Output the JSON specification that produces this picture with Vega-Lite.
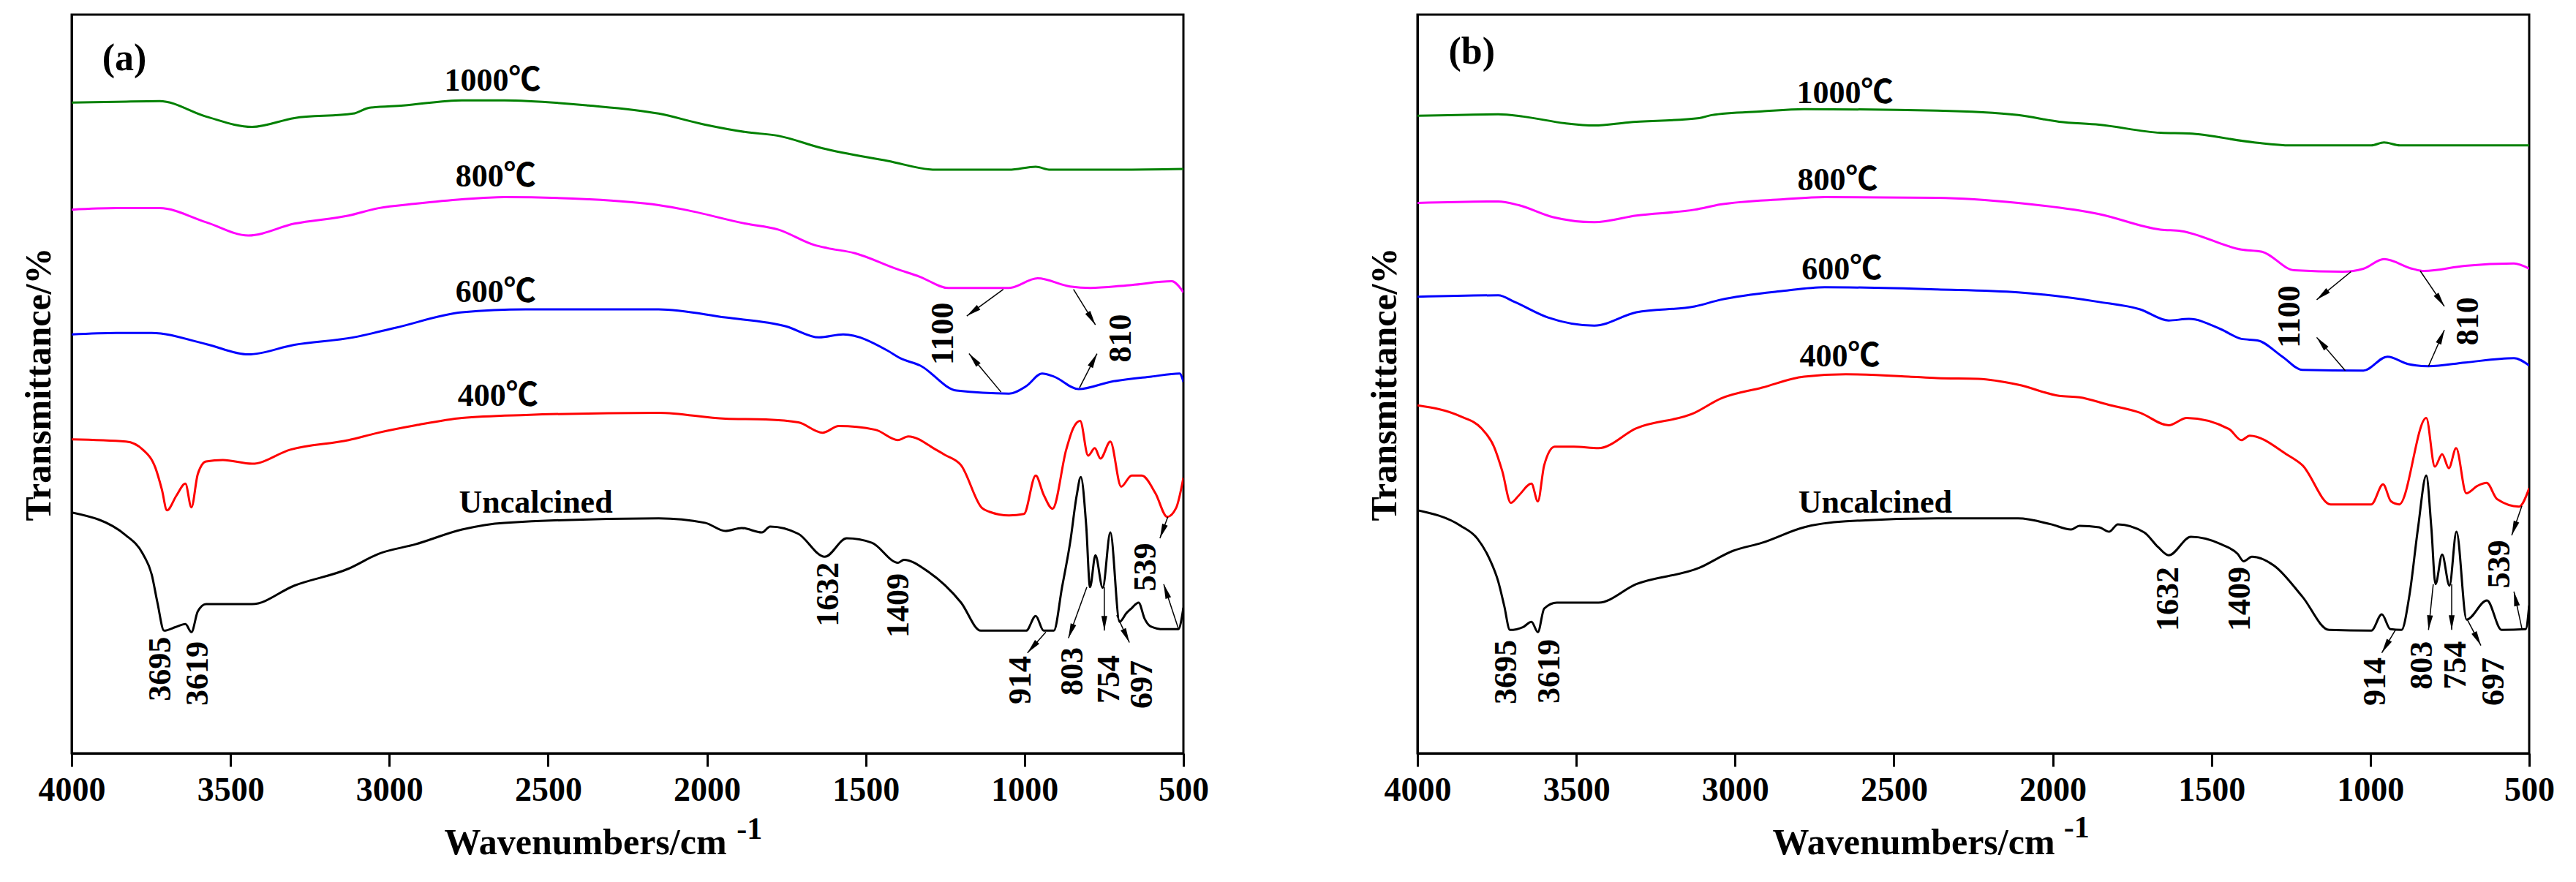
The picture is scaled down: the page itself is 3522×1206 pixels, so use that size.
{
  "$schema": "https://vega.github.io/schema/vega-lite/v6.json",
  "background": "white",
  "padding": {"left": 26, "top": 18, "right": 10, "bottom": 5},
  "spacing": 320,
  "bounds": "flush",
  "config": {
    "view": {"stroke": "black", "strokeWidth": 3},
    "font": "Liberation Serif",
    "axisX": {
      "labelFont": "Liberation Serif",
      "labelFontSize": 46,
      "labelFontWeight": "bold",
      "labelColor": "black",
      "labelPadding": 10,
      "labelOverlap": false,
      "labelFlush": false,
      "tickColor": "black",
      "tickSize": 18,
      "tickWidth": 3,
      "domainColor": "black",
      "domainWidth": 3,
      "grid": false,
      "titleFont": "Liberation Serif",
      "titleFontSize": 50,
      "titleFontWeight": "bold",
      "titleColor": "black",
      "titlePadding": 24
    },
    "axisY": {
      "labels": false,
      "ticks": false,
      "grid": false,
      "domainColor": "black",
      "domainWidth": 3,
      "titleFont": "Liberation Serif",
      "titleFontSize": 50,
      "titleFontWeight": "bold",
      "titleColor": "black",
      "titlePadding": 20
    }
  },
  "datasets": {
    "spectra": [
      {"panel":"a","series":"1000℃","wn":4000,"t":88.1},{"panel":"a","series":"1000℃","wn":3860,"t":88.2},{"panel":"a","series":"1000℃","wn":3723,"t":88.3},{"panel":"a","series":"1000℃","wn":3577,"t":86.2},{"panel":"a","series":"1000℃","wn":3432,"t":84.8},{"panel":"a","series":"1000℃","wn":3299,"t":86.0},{"panel":"a","series":"1000℃","wn":3114,"t":86.6},{"panel":"a","series":"1000℃","wn":3062,"t":87.4},{"panel":"a","series":"1000℃","wn":2956,"t":87.7},{"panel":"a","series":"1000℃","wn":2771,"t":88.4},{"panel":"a","series":"1000℃","wn":2638,"t":88.4},{"panel":"a","series":"1000℃","wn":2373,"t":87.7},{"panel":"a","series":"1000℃","wn":2152,"t":86.6},{"panel":"a","series":"1000℃","wn":2006,"t":85.1},{"panel":"a","series":"1000℃","wn":1878,"t":84.1},{"panel":"a","series":"1000℃","wn":1776,"t":83.6},{"panel":"a","series":"1000℃","wn":1636,"t":81.9},{"panel":"a","series":"1000℃","wn":1431,"t":80.2},{"panel":"a","series":"1000℃","wn":1279,"t":79.0},{"panel":"a","series":"1000℃","wn":1049,"t":79.0},{"panel":"a","series":"1000℃","wn":965,"t":79.4},{"panel":"a","series":"1000℃","wn":919,"t":79.0},{"panel":"a","series":"1000℃","wn":700,"t":79.0},{"panel":"a","series":"1000℃","wn":500,"t":79.1},
      {"panel":"a","series":"800℃","wn":4000,"t":73.6},{"panel":"a","series":"800℃","wn":3860,"t":73.8},{"panel":"a","series":"800℃","wn":3723,"t":73.8},{"panel":"a","series":"800℃","wn":3577,"t":71.9},{"panel":"a","series":"800℃","wn":3444,"t":70.1},{"panel":"a","series":"800℃","wn":3299,"t":71.7},{"panel":"a","series":"800℃","wn":3128,"t":72.8},{"panel":"a","series":"800℃","wn":3034,"t":73.8},{"panel":"a","series":"800℃","wn":2917,"t":74.4},{"panel":"a","series":"800℃","wn":2771,"t":75.0},{"panel":"a","series":"800℃","wn":2638,"t":75.3},{"panel":"a","series":"800℃","wn":2373,"t":75.0},{"panel":"a","series":"800℃","wn":2152,"t":74.2},{"panel":"a","series":"800℃","wn":2071,"t":73.6},{"panel":"a","series":"800℃","wn":1878,"t":71.7},{"panel":"a","series":"800℃","wn":1776,"t":70.9},{"panel":"a","series":"800℃","wn":1661,"t":68.8},{"panel":"a","series":"800℃","wn":1622,"t":68.4},{"panel":"a","series":"800℃","wn":1534,"t":67.7},{"panel":"a","series":"800℃","wn":1405,"t":65.6},{"panel":"a","series":"800℃","wn":1329,"t":64.5},{"panel":"a","series":"800℃","wn":1240,"t":63.0},{"panel":"a","series":"800℃","wn":1049,"t":63.0},{"panel":"a","series":"800℃","wn":959,"t":64.3},{"panel":"a","series":"800℃","wn":857,"t":63.2},{"panel":"a","series":"800℃","wn":793,"t":63.0},{"panel":"a","series":"800℃","wn":663,"t":63.4},{"panel":"a","series":"800℃","wn":537,"t":63.9},{"panel":"a","series":"800℃","wn":500,"t":62.4},
      {"panel":"a","series":"600℃","wn":4000,"t":56.7},{"panel":"a","series":"600℃","wn":3860,"t":56.9},{"panel":"a","series":"600℃","wn":3748,"t":56.9},{"panel":"a","series":"600℃","wn":3577,"t":55.4},{"panel":"a","series":"600℃","wn":3444,"t":54.0},{"panel":"a","series":"600℃","wn":3299,"t":55.3},{"panel":"a","series":"600℃","wn":3114,"t":56.3},{"panel":"a","series":"600℃","wn":2981,"t":57.6},{"panel":"a","series":"600℃","wn":2771,"t":59.7},{"panel":"a","series":"600℃","wn":2571,"t":60.1},{"panel":"a","series":"600℃","wn":2152,"t":60.1},{"panel":"a","series":"600℃","wn":1942,"t":59.0},{"panel":"a","series":"600℃","wn":1751,"t":57.8},{"panel":"a","series":"600℃","wn":1647,"t":56.3},{"panel":"a","series":"600℃","wn":1571,"t":56.7},{"panel":"a","series":"600℃","wn":1431,"t":54.5},{"panel":"a","series":"600℃","wn":1392,"t":53.5},{"panel":"a","series":"600℃","wn":1329,"t":52.5},{"panel":"a","series":"600℃","wn":1214,"t":49.1},{"panel":"a","series":"600℃","wn":1049,"t":48.7},{"panel":"a","series":"600℃","wn":995,"t":49.7},{"panel":"a","series":"600℃","wn":945,"t":51.4},{"panel":"a","series":"600℃","wn":908,"t":51.0},{"panel":"a","series":"600℃","wn":830,"t":49.3},{"panel":"a","series":"600℃","wn":728,"t":50.3},{"panel":"a","series":"600℃","wn":601,"t":51.0},{"panel":"a","series":"600℃","wn":512,"t":51.4},{"panel":"a","series":"600℃","wn":500,"t":50.3},
      {"panel":"a","series":"400℃","wn":4000,"t":42.5},{"panel":"a","series":"400℃","wn":3829,"t":42.2},{"panel":"a","series":"400℃","wn":3776,"t":41.1},{"panel":"a","series":"400℃","wn":3736,"t":38.6},{"panel":"a","series":"400℃","wn":3716,"t":35.7},{"panel":"a","series":"400℃","wn":3700,"t":32.9},{"panel":"a","series":"400℃","wn":3670,"t":34.9},{"panel":"a","series":"400℃","wn":3642,"t":36.5},{"panel":"a","series":"400℃","wn":3623,"t":33.3},{"panel":"a","series":"400℃","wn":3603,"t":37.8},{"panel":"a","series":"400℃","wn":3577,"t":39.5},{"panel":"a","series":"400℃","wn":3524,"t":39.7},{"panel":"a","series":"400℃","wn":3432,"t":39.2},{"panel":"a","series":"400℃","wn":3312,"t":41.1},{"panel":"a","series":"400℃","wn":3128,"t":42.4},{"panel":"a","series":"400℃","wn":3034,"t":43.4},{"panel":"a","series":"400℃","wn":2917,"t":44.4},{"panel":"a","series":"400℃","wn":2771,"t":45.4},{"panel":"a","series":"400℃","wn":2571,"t":45.8},{"panel":"a","series":"400℃","wn":2152,"t":46.1},{"panel":"a","series":"400℃","wn":1942,"t":45.3},{"panel":"a","series":"400℃","wn":1815,"t":45.2},{"panel":"a","series":"400℃","wn":1712,"t":44.8},{"panel":"a","series":"400℃","wn":1636,"t":43.4},{"panel":"a","series":"400℃","wn":1585,"t":44.3},{"panel":"a","series":"400℃","wn":1470,"t":43.8},{"panel":"a","series":"400℃","wn":1399,"t":42.4},{"panel":"a","series":"400℃","wn":1366,"t":42.9},{"panel":"a","series":"400℃","wn":1279,"t":41.1},{"panel":"a","series":"400℃","wn":1251,"t":40.4},{"panel":"a","series":"400℃","wn":1200,"t":39.0},{"panel":"a","series":"400℃","wn":1134,"t":33.2},{"panel":"a","series":"400℃","wn":1111,"t":32.7},{"panel":"a","series":"400℃","wn":1049,"t":32.2},{"panel":"a","series":"400℃","wn":1002,"t":32.4},{"panel":"a","series":"400℃","wn":965,"t":37.6},{"panel":"a","series":"400℃","wn":940,"t":35.0},{"panel":"a","series":"400℃","wn":912,"t":33.1},{"panel":"a","series":"400℃","wn":869,"t":41.1},{"panel":"a","series":"400℃","wn":847,"t":44.0},{"panel":"a","series":"400℃","wn":825,"t":45.0},{"panel":"a","series":"400℃","wn":800,"t":40.3},{"panel":"a","series":"400℃","wn":779,"t":41.3},{"panel":"a","series":"400℃","wn":761,"t":39.9},{"panel":"a","series":"400℃","wn":730,"t":42.2},{"panel":"a","series":"400℃","wn":696,"t":36.1},{"panel":"a","series":"400℃","wn":663,"t":37.6},{"panel":"a","series":"400℃","wn":631,"t":37.6},{"panel":"a","series":"400℃","wn":588,"t":35.2},{"panel":"a","series":"400℃","wn":551,"t":32.0},{"panel":"a","series":"400℃","wn":523,"t":33.2},{"panel":"a","series":"400℃","wn":500,"t":37.3},
      {"panel":"a","series":"Uncalcined","wn":4000,"t":32.6},{"panel":"a","series":"Uncalcined","wn":3829,"t":29.5},{"panel":"a","series":"Uncalcined","wn":3776,"t":27.0},{"panel":"a","series":"Uncalcined","wn":3748,"t":24.2},{"panel":"a","series":"Uncalcined","wn":3730,"t":20.4},{"panel":"a","series":"Uncalcined","wn":3709,"t":16.6},{"panel":"a","series":"Uncalcined","wn":3672,"t":17.1},{"panel":"a","series":"Uncalcined","wn":3642,"t":17.5},{"panel":"a","series":"Uncalcined","wn":3623,"t":16.4},{"panel":"a","series":"Uncalcined","wn":3603,"t":19.2},{"panel":"a","series":"Uncalcined","wn":3577,"t":20.2},{"panel":"a","series":"Uncalcined","wn":3432,"t":20.2},{"panel":"a","series":"Uncalcined","wn":3299,"t":22.7},{"panel":"a","series":"Uncalcined","wn":3128,"t":25.0},{"panel":"a","series":"Uncalcined","wn":3034,"t":27.0},{"panel":"a","series":"Uncalcined","wn":2917,"t":28.3},{"panel":"a","series":"Uncalcined","wn":2771,"t":30.3},{"panel":"a","series":"Uncalcined","wn":2638,"t":31.2},{"panel":"a","series":"Uncalcined","wn":2152,"t":31.8},{"panel":"a","series":"Uncalcined","wn":2006,"t":31.2},{"panel":"a","series":"Uncalcined","wn":1942,"t":30.1},{"panel":"a","series":"Uncalcined","wn":1891,"t":30.5},{"panel":"a","series":"Uncalcined","wn":1827,"t":29.9},{"panel":"a","series":"Uncalcined","wn":1801,"t":30.7},{"panel":"a","series":"Uncalcined","wn":1712,"t":29.7},{"panel":"a","series":"Uncalcined","wn":1629,"t":26.6},{"panel":"a","series":"Uncalcined","wn":1560,"t":29.1},{"panel":"a","series":"Uncalcined","wn":1481,"t":28.5},{"panel":"a","series":"Uncalcined","wn":1398,"t":25.8},{"panel":"a","series":"Uncalcined","wn":1380,"t":26.2},{"panel":"a","series":"Uncalcined","wn":1304,"t":24.6},{"panel":"a","series":"Uncalcined","wn":1200,"t":20.4},{"panel":"a","series":"Uncalcined","wn":1138,"t":16.6},{"panel":"a","series":"Uncalcined","wn":995,"t":16.6},{"panel":"a","series":"Uncalcined","wn":965,"t":18.6},{"panel":"a","series":"Uncalcined","wn":940,"t":16.6},{"panel":"a","series":"Uncalcined","wn":908,"t":16.6},{"panel":"a","series":"Uncalcined","wn":882,"t":22.5},{"panel":"a","series":"Uncalcined","wn":856,"t":28.7},{"panel":"a","series":"Uncalcined","wn":836,"t":34.9},{"panel":"a","series":"Uncalcined","wn":823,"t":37.4},{"panel":"a","series":"Uncalcined","wn":806,"t":30.8},{"panel":"a","series":"Uncalcined","wn":794,"t":22.5},{"panel":"a","series":"Uncalcined","wn":777,"t":26.8},{"panel":"a","series":"Uncalcined","wn":754,"t":22.4},{"panel":"a","series":"Uncalcined","wn":730,"t":29.9},{"panel":"a","series":"Uncalcined","wn":701,"t":17.8},{"panel":"a","series":"Uncalcined","wn":679,"t":19.0},{"panel":"a","series":"Uncalcined","wn":664,"t":19.6},{"panel":"a","series":"Uncalcined","wn":641,"t":20.4},{"panel":"a","series":"Uncalcined","wn":622,"t":18.2},{"panel":"a","series":"Uncalcined","wn":604,"t":17.2},{"panel":"a","series":"Uncalcined","wn":562,"t":16.8},{"panel":"a","series":"Uncalcined","wn":516,"t":16.8},{"panel":"a","series":"Uncalcined","wn":500,"t":19.7},
      {"panel":"b","series":"1000℃","wn":4000,"t":86.3},{"panel":"b","series":"1000℃","wn":3746,"t":86.5},{"panel":"b","series":"1000℃","wn":3667,"t":86.2},{"panel":"b","series":"1000℃","wn":3536,"t":85.3},{"panel":"b","series":"1000℃","wn":3443,"t":85.0},{"panel":"b","series":"1000℃","wn":3338,"t":85.4},{"panel":"b","series":"1000℃","wn":3113,"t":86.0},{"panel":"b","series":"1000℃","wn":3074,"t":86.4},{"panel":"b","series":"1000℃","wn":2915,"t":86.9},{"panel":"b","series":"1000℃","wn":2783,"t":87.2},{"panel":"b","series":"1000℃","wn":2364,"t":87.0},{"panel":"b","series":"1000℃","wn":2109,"t":86.4},{"panel":"b","series":"1000℃","wn":1980,"t":85.5},{"panel":"b","series":"1000℃","wn":1854,"t":85.1},{"panel":"b","series":"1000℃","wn":1661,"t":84.0},{"panel":"b","series":"1000℃","wn":1571,"t":83.9},{"panel":"b","series":"1000℃","wn":1366,"t":82.7},{"panel":"b","series":"1000℃","wn":1252,"t":82.3},{"panel":"b","series":"1000℃","wn":997,"t":82.3},{"panel":"b","series":"1000℃","wn":957,"t":82.7},{"panel":"b","series":"1000℃","wn":907,"t":82.3},{"panel":"b","series":"1000℃","wn":500,"t":82.3},
      {"panel":"b","series":"800℃","wn":4000,"t":74.5},{"panel":"b","series":"800℃","wn":3746,"t":74.7},{"panel":"b","series":"800℃","wn":3681,"t":74.2},{"panel":"b","series":"800℃","wn":3575,"t":72.6},{"panel":"b","series":"800℃","wn":3443,"t":71.9},{"panel":"b","series":"800℃","wn":3311,"t":72.8},{"panel":"b","series":"800℃","wn":3127,"t":73.6},{"panel":"b","series":"800℃","wn":3046,"t":74.3},{"panel":"b","series":"800℃","wn":2849,"t":75.0},{"panel":"b","series":"800℃","wn":2718,"t":75.3},{"panel":"b","series":"800℃","wn":2364,"t":75.2},{"panel":"b","series":"800℃","wn":2109,"t":74.5},{"panel":"b","series":"800℃","wn":1854,"t":73.0},{"panel":"b","series":"800℃","wn":1661,"t":70.9},{"panel":"b","series":"800℃","wn":1596,"t":70.7},{"panel":"b","series":"800℃","wn":1406,"t":68.2},{"panel":"b","series":"800℃","wn":1341,"t":67.9},{"panel":"b","series":"800℃","wn":1240,"t":65.4},{"panel":"b","series":"800℃","wn":1086,"t":65.2},{"panel":"b","series":"800℃","wn":1022,"t":65.6},{"panel":"b","series":"800℃","wn":957,"t":66.9},{"panel":"b","series":"800℃","wn":868,"t":65.6},{"panel":"b","series":"800℃","wn":831,"t":65.3},{"panel":"b","series":"800℃","wn":702,"t":66.0},{"panel":"b","series":"800℃","wn":548,"t":66.3},{"panel":"b","series":"800℃","wn":500,"t":65.6},
      {"panel":"b","series":"600℃","wn":4000,"t":61.8},{"panel":"b","series":"600℃","wn":3746,"t":62.0},{"panel":"b","series":"600℃","wn":3694,"t":61.1},{"panel":"b","series":"600℃","wn":3589,"t":59.0},{"panel":"b","series":"600℃","wn":3443,"t":57.9},{"panel":"b","series":"600℃","wn":3311,"t":59.7},{"panel":"b","series":"600℃","wn":3127,"t":60.5},{"panel":"b","series":"600℃","wn":3046,"t":61.4},{"panel":"b","series":"600℃","wn":2849,"t":62.6},{"panel":"b","series":"600℃","wn":2718,"t":63.1},{"panel":"b","series":"600℃","wn":2364,"t":62.8},{"panel":"b","series":"600℃","wn":2109,"t":62.4},{"panel":"b","series":"600℃","wn":1854,"t":61.1},{"panel":"b","series":"600℃","wn":1725,"t":60.1},{"panel":"b","series":"600℃","wn":1635,"t":58.6},{"panel":"b","series":"600℃","wn":1571,"t":58.8},{"panel":"b","series":"600℃","wn":1470,"t":57.4},{"panel":"b","series":"600℃","wn":1406,"t":56.1},{"panel":"b","series":"600℃","wn":1355,"t":55.9},{"panel":"b","series":"600℃","wn":1277,"t":53.7},{"panel":"b","series":"600℃","wn":1214,"t":51.9},{"panel":"b","series":"600℃","wn":1022,"t":51.8},{"panel":"b","series":"600℃","wn":946,"t":53.7},{"panel":"b","series":"600℃","wn":882,"t":52.7},{"panel":"b","series":"600℃","wn":817,"t":52.4},{"panel":"b","series":"600℃","wn":702,"t":52.9},{"panel":"b","series":"600℃","wn":548,"t":53.5},{"panel":"b","series":"600℃","wn":500,"t":52.5},
      {"panel":"b","series":"400℃","wn":4000,"t":47.1},{"panel":"b","series":"400℃","wn":3864,"t":45.6},{"panel":"b","series":"400℃","wn":3799,"t":44.0},{"panel":"b","series":"400℃","wn":3759,"t":41.5},{"panel":"b","series":"400℃","wn":3733,"t":38.2},{"panel":"b","series":"400℃","wn":3706,"t":33.9},{"panel":"b","series":"400℃","wn":3681,"t":34.9},{"panel":"b","series":"400℃","wn":3641,"t":36.5},{"panel":"b","series":"400℃","wn":3621,"t":34.1},{"panel":"b","series":"400℃","wn":3601,"t":39.0},{"panel":"b","series":"400℃","wn":3568,"t":41.5},{"panel":"b","series":"400℃","wn":3508,"t":41.5},{"panel":"b","series":"400℃","wn":3430,"t":41.3},{"panel":"b","series":"400℃","wn":3311,"t":44.0},{"panel":"b","series":"400℃","wn":3127,"t":46.1},{"panel":"b","series":"400℃","wn":3046,"t":48.0},{"panel":"b","series":"400℃","wn":2915,"t":49.5},{"panel":"b","series":"400℃","wn":2783,"t":51.0},{"panel":"b","series":"400℃","wn":2651,"t":51.3},{"panel":"b","series":"400℃","wn":2453,"t":51.0},{"panel":"b","series":"400℃","wn":2364,"t":50.8},{"panel":"b","series":"400℃","wn":2235,"t":50.7},{"panel":"b","series":"400℃","wn":2109,"t":49.9},{"panel":"b","series":"400℃","wn":1980,"t":48.4},{"panel":"b","series":"400℃","wn":1916,"t":48.2},{"panel":"b","series":"400℃","wn":1826,"t":47.2},{"panel":"b","series":"400℃","wn":1725,"t":46.1},{"panel":"b","series":"400℃","wn":1635,"t":44.4},{"panel":"b","series":"400℃","wn":1578,"t":45.4},{"panel":"b","series":"400℃","wn":1445,"t":43.9},{"panel":"b","series":"400℃","wn":1406,"t":42.4},{"panel":"b","series":"400℃","wn":1380,"t":43.0},{"panel":"b","series":"400℃","wn":1261,"t":40.4},{"panel":"b","series":"400℃","wn":1214,"t":39.0},{"panel":"b","series":"400℃","wn":1125,"t":33.7},{"panel":"b","series":"400℃","wn":997,"t":33.7},{"panel":"b","series":"400℃","wn":960,"t":36.4},{"panel":"b","series":"400℃","wn":935,"t":34.1},{"panel":"b","series":"400℃","wn":909,"t":33.7},{"panel":"b","series":"400℃","wn":824,"t":45.4},{"panel":"b","series":"400℃","wn":797,"t":38.8},{"panel":"b","series":"400℃","wn":774,"t":40.5},{"panel":"b","series":"400℃","wn":753,"t":38.6},{"panel":"b","series":"400℃","wn":730,"t":41.3},{"panel":"b","series":"400℃","wn":698,"t":35.2},{"panel":"b","series":"400℃","wn":663,"t":36.2},{"panel":"b","series":"400℃","wn":634,"t":36.6},{"panel":"b","series":"400℃","wn":601,"t":34.4},{"panel":"b","series":"400℃","wn":532,"t":33.4},{"panel":"b","series":"400℃","wn":500,"t":35.9},
      {"panel":"b","series":"Uncalcined","wn":4000,"t":32.9},{"panel":"b","series":"Uncalcined","wn":3864,"t":30.8},{"panel":"b","series":"Uncalcined","wn":3812,"t":29.1},{"panel":"b","series":"Uncalcined","wn":3772,"t":26.2},{"panel":"b","series":"Uncalcined","wn":3746,"t":23.3},{"panel":"b","series":"Uncalcined","wn":3727,"t":20.0},{"panel":"b","series":"Uncalcined","wn":3709,"t":16.7},{"panel":"b","series":"Uncalcined","wn":3667,"t":17.1},{"panel":"b","series":"Uncalcined","wn":3641,"t":17.8},{"panel":"b","series":"Uncalcined","wn":3621,"t":16.4},{"panel":"b","series":"Uncalcined","wn":3601,"t":19.6},{"panel":"b","series":"Uncalcined","wn":3561,"t":20.4},{"panel":"b","series":"Uncalcined","wn":3430,"t":20.4},{"panel":"b","series":"Uncalcined","wn":3311,"t":22.9},{"panel":"b","series":"Uncalcined","wn":3113,"t":25.1},{"panel":"b","series":"Uncalcined","wn":3007,"t":27.4},{"panel":"b","series":"Uncalcined","wn":2915,"t":28.5},{"panel":"b","series":"Uncalcined","wn":2783,"t":30.6},{"panel":"b","series":"Uncalcined","wn":2651,"t":31.4},{"panel":"b","series":"Uncalcined","wn":2364,"t":31.8},{"panel":"b","series":"Uncalcined","wn":2109,"t":31.8},{"panel":"b","series":"Uncalcined","wn":2005,"t":31.0},{"panel":"b","series":"Uncalcined","wn":1942,"t":30.3},{"panel":"b","series":"Uncalcined","wn":1916,"t":30.8},{"panel":"b","series":"Uncalcined","wn":1854,"t":30.6},{"panel":"b","series":"Uncalcined","wn":1822,"t":30.0},{"panel":"b","series":"Uncalcined","wn":1795,"t":31.0},{"panel":"b","series":"Uncalcined","wn":1712,"t":29.9},{"panel":"b","series":"Uncalcined","wn":1668,"t":27.9},{"panel":"b","series":"Uncalcined","wn":1635,"t":26.8},{"panel":"b","series":"Uncalcined","wn":1565,"t":29.3},{"panel":"b","series":"Uncalcined","wn":1470,"t":28.3},{"panel":"b","series":"Uncalcined","wn":1418,"t":27.0},{"panel":"b","series":"Uncalcined","wn":1399,"t":26.0},{"panel":"b","series":"Uncalcined","wn":1373,"t":26.6},{"panel":"b","series":"Uncalcined","wn":1303,"t":25.4},{"panel":"b","series":"Uncalcined","wn":1214,"t":21.2},{"panel":"b","series":"Uncalcined","wn":1130,"t":16.7},{"panel":"b","series":"Uncalcined","wn":997,"t":16.6},{"panel":"b","series":"Uncalcined","wn":964,"t":18.8},{"panel":"b","series":"Uncalcined","wn":937,"t":16.8},{"panel":"b","series":"Uncalcined","wn":902,"t":16.7},{"panel":"b","series":"Uncalcined","wn":877,"t":21.4},{"panel":"b","series":"Uncalcined","wn":850,"t":30.5},{"panel":"b","series":"Uncalcined","wn":824,"t":37.6},{"panel":"b","series":"Uncalcined","wn":808,"t":30.5},{"panel":"b","series":"Uncalcined","wn":795,"t":22.9},{"panel":"b","series":"Uncalcined","wn":774,"t":26.9},{"panel":"b","series":"Uncalcined","wn":751,"t":22.7},{"panel":"b","series":"Uncalcined","wn":729,"t":30.0},{"panel":"b","series":"Uncalcined","wn":697,"t":18.1},{"panel":"b","series":"Uncalcined","wn":633,"t":20.7},{"panel":"b","series":"Uncalcined","wn":587,"t":16.7},{"panel":"b","series":"Uncalcined","wn":511,"t":16.8},{"panel":"b","series":"Uncalcined","wn":500,"t":20.0}
    ],
    "labels": [
      {"panel":"a","kind":"sample","label":"1000℃","wn":2675,"t":91.0},
      {"panel":"a","kind":"sample","label":"800℃","wn":2665,"t":78.0},
      {"panel":"a","kind":"sample","label":"600℃","wn":2665,"t":62.4},
      {"panel":"a","kind":"sample","label":"400℃","wn":2658,"t":48.3},
      {"panel":"a","kind":"sample","label":"Uncalcined","wn":2539,"t":33.9},
      {"panel":"a","kind":"panel","label":"(a)","wn":3834,"t":94.1},
      {"panel":"a","kind":"sup","label":"-1","wn":1866,"t":-10.3},
      {"panel":"a","kind":"peak","label":"3695","wn":3719,"t":11.4},
      {"panel":"a","kind":"peak","label":"3619","wn":3601,"t":10.8},
      {"panel":"a","kind":"peak","label":"1632","wn":1616,"t":21.5},
      {"panel":"a","kind":"peak","label":"1409","wn":1396,"t":20.0},
      {"panel":"a","kind":"peak","label":"914","wn":1012,"t":9.9},
      {"panel":"a","kind":"peak","label":"803","wn":847,"t":11.1},
      {"panel":"a","kind":"peak","label":"754","wn":733,"t":10.0},
      {"panel":"a","kind":"peak","label":"697","wn":629,"t":9.3},
      {"panel":"a","kind":"peak","label":"539","wn":617,"t":25.2},
      {"panel":"a","kind":"peak","label":"1100","wn":1255,"t":56.8},
      {"panel":"a","kind":"peak","label":"810","wn":696,"t":56.2},
      {"panel":"b","kind":"sample","label":"1000℃","wn":2654,"t":89.3},
      {"panel":"b","kind":"sample","label":"800℃","wn":2677,"t":77.5},
      {"panel":"b","kind":"sample","label":"600℃","wn":2664,"t":65.4},
      {"panel":"b","kind":"sample","label":"400℃","wn":2670,"t":53.7},
      {"panel":"b","kind":"sample","label":"Uncalcined","wn":2559,"t":33.9},
      {"panel":"b","kind":"panel","label":"(b)","wn":3829,"t":95.0},
      {"panel":"b","kind":"sup","label":"-1","wn":1925,"t":-10.1},
      {"panel":"b","kind":"peak","label":"3695","wn":3720,"t":11.0},
      {"panel":"b","kind":"peak","label":"3619","wn":3584,"t":11.1},
      {"panel":"b","kind":"peak","label":"1632","wn":1635,"t":20.9},
      {"panel":"b","kind":"peak","label":"1409","wn":1409,"t":20.9},
      {"panel":"b","kind":"peak","label":"914","wn":984,"t":9.7},
      {"panel":"b","kind":"peak","label":"803","wn":837,"t":11.9},
      {"panel":"b","kind":"peak","label":"754","wn":731,"t":11.9},
      {"panel":"b","kind":"peak","label":"697","wn":610,"t":9.7},
      {"panel":"b","kind":"peak","label":"539","wn":591,"t":25.6},
      {"panel":"b","kind":"peak","label":"1100","wn":1252,"t":59.1},
      {"panel":"b","kind":"peak","label":"810","wn":690,"t":58.5}
    ],
    "arrows": [
      {"panel":"a","wn":933,"t":16.4,"wn2":991,"t2":13.6},
      {"panel":"a","wn":804,"t":22.5,"wn2":862,"t2":15.6},
      {"panel":"a","wn":749,"t":22.5,"wn2":749,"t2":16.6},
      {"panel":"a","wn":710,"t":18.7,"wn2":670,"t2":15.0},
      {"panel":"a","wn":549,"t":32.0,"wn2":574,"t2":29.1},
      {"panel":"a","wn":516,"t":16.9,"wn2":562,"t2":22.9},
      {"panel":"a","wn":1067,"t":62.8,"wn2":1182,"t2":59.2},
      {"panel":"a","wn":1074,"t":48.9,"wn2":1175,"t2":54.1},
      {"panel":"a","wn":846,"t":62.8,"wn2":777,"t2":58.0},
      {"panel":"a","wn":827,"t":49.5,"wn2":772,"t2":54.1},
      {"panel":"b","wn":921,"t":16.7,"wn2":964,"t2":13.6},
      {"panel":"b","wn":802,"t":22.9,"wn2":817,"t2":16.7},
      {"panel":"b","wn":744,"t":22.9,"wn2":744,"t2":16.7},
      {"panel":"b","wn":695,"t":18.1,"wn2":652,"t2":14.6},
      {"panel":"b","wn":523,"t":33.5,"wn2":555,"t2":29.5},
      {"panel":"b","wn":523,"t":16.9,"wn2":548,"t2":21.9},
      {"panel":"b","wn":1061,"t":65.2,"wn2":1169,"t2":61.4},
      {"panel":"b","wn":1079,"t":51.8,"wn2":1169,"t2":56.3},
      {"panel":"b","wn":843,"t":65.3,"wn2":767,"t2":60.5},
      {"panel":"b","wn":817,"t":52.4,"wn2":767,"t2":57.3}
    ]
  },
  "hconcat": [
    {
      "width": 1520,
      "height": 1010,
      "encoding": {
        "x": {"field": "wn", "type": "quantitative", "title": "Wavenumbers/cm", "scale": {"domain": [500, 4000], "reverse": true, "nice": false, "zero": false}, "axis": {"values": [4000, 3500, 3000, 2500, 2000, 1500, 1000, 500], "format": "d", "titleX": 702}},
        "y": {"field": "t", "type": "quantitative", "title": "Transmittance/%", "scale": {"domain": [0, 100], "nice": false, "zero": false}}
      },
      "layer": [
        {
          "data": {"name": "spectra"},
          "transform": [{"filter": "datum.panel === 'a'"}],
          "mark": {"type": "line", "strokeWidth": 3, "interpolate": "monotone", "clip": true},
          "encoding": {
            "color": {"field": "series", "type": "nominal", "legend": null, "scale": {"domain": ["Uncalcined", "400℃", "600℃", "800℃", "1000℃"], "range": ["#000000", "#ff0000", "#0000ff", "#ff00ff", "#008000"]}}
          }
        },
        {
          "data": {"name": "arrows"},
          "transform": [{"filter": "datum.panel === 'a'"}],
          "mark": {"type": "rule", "strokeWidth": 1.5, "color": "black"},
          "encoding": {"x2": {"field": "wn2"}, "y2": {"field": "t2"}}
        },
        {
          "data": {"name": "arrows"},
          "transform": [
            {"filter": "datum.panel === 'a'"},
            {"calculate": "atan2((datum.wn - datum.wn2) * 0.4343, (datum.t2 - datum.t) * 10.1) * 180 / PI", "as": "ang"}
          ],
          "mark": {"type": "point", "shape": "M0,0L0.4,2L-0.4,2Z", "filled": true, "size": 400, "color": "black", "opacity": 1, "strokeWidth": 0},
          "encoding": {
            "x": {"field": "wn2", "type": "quantitative"},
            "y": {"field": "t2", "type": "quantitative"},
            "angle": {"field": "ang", "type": "quantitative", "scale": null}
          }
        },
        {
          "data": {"name": "labels"},
          "transform": [{"filter": "datum.panel === 'a' && datum.kind === 'sample'"}],
          "mark": {"type": "text", "font": "Liberation Serif, Noto Sans CJK SC", "fontSize": 44, "fontWeight": "bold", "align": "center", "baseline": "middle", "color": "black"},
          "encoding": {"text": {"field": "label"}}
        },
        {
          "data": {"name": "labels"},
          "transform": [{"filter": "datum.panel === 'a' && datum.kind === 'panel'"}],
          "mark": {"type": "text", "font": "Liberation Serif", "fontSize": 52, "fontWeight": "bold", "align": "center", "baseline": "middle", "color": "black"},
          "encoding": {"text": {"field": "label"}}
        },
        {
          "data": {"name": "labels"},
          "transform": [{"filter": "datum.panel === 'a' && datum.kind === 'sup'"}],
          "mark": {"type": "text", "font": "Liberation Serif", "fontSize": 42, "fontWeight": "bold", "align": "center", "baseline": "middle", "color": "black"},
          "encoding": {"text": {"field": "label"}}
        },
        {
          "data": {"name": "labels"},
          "transform": [{"filter": "datum.panel === 'a' && datum.kind === 'peak'"}],
          "mark": {"type": "text", "font": "Liberation Serif", "fontSize": 44, "fontWeight": "bold", "align": "center", "baseline": "middle", "angle": 270, "color": "black"},
          "encoding": {"text": {"field": "label"}}
        }
      ]
    },
    {
      "width": 1520,
      "height": 1010,
      "encoding": {
        "x": {"field": "wn", "type": "quantitative", "title": "Wavenumbers/cm", "scale": {"domain": [500, 4000], "reverse": true, "nice": false, "zero": false}, "axis": {"values": [4000, 3500, 3000, 2500, 2000, 1500, 1000, 500], "format": "d", "titleX": 678}},
        "y": {"field": "t", "type": "quantitative", "title": "Transmittance/%", "scale": {"domain": [0, 100], "nice": false, "zero": false}}
      },
      "layer": [
        {
          "data": {"name": "spectra"},
          "transform": [{"filter": "datum.panel === 'b'"}],
          "mark": {"type": "line", "strokeWidth": 3, "interpolate": "monotone", "clip": true},
          "encoding": {
            "color": {"field": "series", "type": "nominal", "legend": null, "scale": {"domain": ["Uncalcined", "400℃", "600℃", "800℃", "1000℃"], "range": ["#000000", "#ff0000", "#0000ff", "#ff00ff", "#008000"]}}
          }
        },
        {
          "data": {"name": "arrows"},
          "transform": [{"filter": "datum.panel === 'b'"}],
          "mark": {"type": "rule", "strokeWidth": 1.5, "color": "black"},
          "encoding": {"x2": {"field": "wn2"}, "y2": {"field": "t2"}}
        },
        {
          "data": {"name": "arrows"},
          "transform": [
            {"filter": "datum.panel === 'b'"},
            {"calculate": "atan2((datum.wn - datum.wn2) * 0.4343, (datum.t2 - datum.t) * 10.1) * 180 / PI", "as": "ang"}
          ],
          "mark": {"type": "point", "shape": "M0,0L0.4,2L-0.4,2Z", "filled": true, "size": 400, "color": "black", "opacity": 1, "strokeWidth": 0},
          "encoding": {
            "x": {"field": "wn2", "type": "quantitative"},
            "y": {"field": "t2", "type": "quantitative"},
            "angle": {"field": "ang", "type": "quantitative", "scale": null}
          }
        },
        {
          "data": {"name": "labels"},
          "transform": [{"filter": "datum.panel === 'b' && datum.kind === 'sample'"}],
          "mark": {"type": "text", "font": "Liberation Serif, Noto Sans CJK SC", "fontSize": 44, "fontWeight": "bold", "align": "center", "baseline": "middle", "color": "black"},
          "encoding": {"text": {"field": "label"}}
        },
        {
          "data": {"name": "labels"},
          "transform": [{"filter": "datum.panel === 'b' && datum.kind === 'panel'"}],
          "mark": {"type": "text", "font": "Liberation Serif", "fontSize": 52, "fontWeight": "bold", "align": "center", "baseline": "middle", "color": "black"},
          "encoding": {"text": {"field": "label"}}
        },
        {
          "data": {"name": "labels"},
          "transform": [{"filter": "datum.panel === 'b' && datum.kind === 'sup'"}],
          "mark": {"type": "text", "font": "Liberation Serif", "fontSize": 42, "fontWeight": "bold", "align": "center", "baseline": "middle", "color": "black"},
          "encoding": {"text": {"field": "label"}}
        },
        {
          "data": {"name": "labels"},
          "transform": [{"filter": "datum.panel === 'b' && datum.kind === 'peak'"}],
          "mark": {"type": "text", "font": "Liberation Serif", "fontSize": 44, "fontWeight": "bold", "align": "center", "baseline": "middle", "angle": 270, "color": "black"},
          "encoding": {"text": {"field": "label"}}
        }
      ]
    }
  ]
}
